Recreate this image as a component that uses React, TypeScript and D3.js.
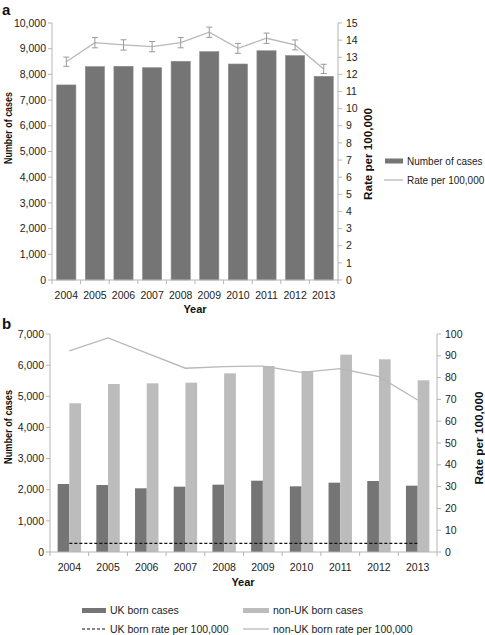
import React from "react";
import * as d3 from "d3";

const years = ["2004", "2005", "2006", "2007", "2008", "2009", "2010", "2011", "2012", "2013"];

// Panel a
const totalCases = [7590, 8300, 8315, 8260, 8510, 8885, 8405, 8920, 8730, 7925];
const totalRate = [12.74, 13.85, 13.72, 13.62, 13.85, 14.46, 13.52, 14.11, 13.72, 12.32];
const totalRateLow = [12.47, 13.55, 13.42, 13.32, 13.55, 14.16, 13.23, 13.81, 13.43, 12.05];
const totalRateHigh = [13.01, 14.15, 14.02, 13.92, 14.15, 14.76, 13.81, 14.41, 14.01, 12.59];
const aLeftTicks = [0, 1000, 2000, 3000, 4000, 5000, 6000, 7000, 8000, 9000, 10000];
const aRightTicks = [0, 1, 2, 3, 4, 5, 6, 7, 8, 9, 10, 11, 12, 13, 14, 15];

// Panel b
const ukCases = [2183, 2151, 2045, 2098, 2162, 2290, 2109, 2226, 2280, 2130];
const nonUkCases = [4774, 5394, 5416, 5437, 5737, 5972, 5812, 6336, 6187, 5513];
const ukRate = [4.0, 4.0, 4.0, 4.0, 4.0, 4.0, 4.0, 4.0, 4.0, 4.0];
const nonUkRate = [92.3, 98.2, 91.2, 84.3, 85.0, 85.3, 82.4, 84.1, 80.4, 69.7];
const bLeftTicks = [0, 1000, 2000, 3000, 4000, 5000, 6000, 7000];
const bRightTicks = [0, 10, 20, 30, 40, 50, 60, 70, 80, 90, 100];

const FONT = "'Liberation Sans', Arial, Helvetica, sans-serif";
const AXIS = "#b5b5b5";
const TXT = "#222";
const DARK = "#757575";
const LIGHT = "#bcbcbc";
const LINE = "#b8b8b8";
const fmt = d3.format(",");

function BandAxisX({ x, y, labelY }: { x: d3.ScaleBand<string>; y: number; labelY: number }) {
  const [r0, r1] = x.range();
  const step = x.step();
  const bounds = d3.range(years.length + 1).map((i) => r0 + i * step);
  return (
    <g>
      <line x1={r0} x2={r1} y1={y} y2={y} stroke={AXIS} />
      {bounds.map((b, i) => (
        <line key={i} x1={b} x2={b} y1={y} y2={y + 4} stroke={AXIS} />
      ))}
      {years.map((yr) => (
        <text key={yr} x={x(yr)! + x.bandwidth() / 2} y={labelY} textAnchor="middle" fontSize={10.5} fill={TXT}>
          {yr}
        </text>
      ))}
    </g>
  );
}

function LeftAxis({ scale, ticks, x, f }: { scale: d3.ScaleLinear<number, number>; ticks: number[]; x: number; f: (v: number) => string }) {
  const [a, b] = scale.range();
  return (
    <g>
      <line x1={x} x2={x} y1={a} y2={b} stroke={AXIS} />
      {ticks.map((t) => (
        <g key={t}>
          <line x1={x - 4} x2={x} y1={scale(t)} y2={scale(t)} stroke={AXIS} />
          <text x={x - 6} y={scale(t)} dy="0.35em" textAnchor="end" fontSize={10.5} fill={TXT}>
            {f(t)}
          </text>
        </g>
      ))}
    </g>
  );
}

function RightAxis({ scale, ticks, x }: { scale: d3.ScaleLinear<number, number>; ticks: number[]; x: number }) {
  const [a, b] = scale.range();
  return (
    <g>
      <line x1={x} x2={x} y1={a} y2={b} stroke={AXIS} />
      {ticks.map((t) => (
        <g key={t}>
          <line x1={x} x2={x + 4} y1={scale(t)} y2={scale(t)} stroke={AXIS} />
          <text x={x + 8} y={scale(t)} dy="0.35em" textAnchor="start" fontSize={10.5} fill={TXT}>
            {String(t)}
          </text>
        </g>
      ))}
    </g>
  );
}

function VTitle({ x, y, text, len }: { x: number; y: number; text: string; len: number }) {
  return (
    <text
      transform={`translate(${x},${y}) rotate(-90)`}
      textAnchor="middle"
      dy="0.35em"
      fontSize={10.5}
      fontWeight="bold"
      fill="#111"
      textLength={len}
      lengthAdjust="spacingAndGlyphs"
    >
      {text}
    </text>
  );
}

export default function App() {
  // Panel a scales
  const xa = d3.scaleBand<string>().domain(years).range([52, 338]).paddingInner(0.33).paddingOuter(0.165);
  const ya = d3.scaleLinear().domain([0, 10000]).range([280, 23]);
  const ra = d3.scaleLinear().domain([0, 15]).range([280, 23]);
  const cxa = (i: number) => xa(years[i])! + xa.bandwidth() / 2;
  const rateLine = d3
    .line<number>()
    .x((_, i) => cxa(i))
    .y((d) => ra(d));

  // Panel b scales
  const xb = d3.scaleBand<string>().domain(years).range([50, 437]).paddingInner(0.395).paddingOuter(0.1975);
  const sub = d3.scaleBand<string>().domain(["uk", "non"]).range([0, xb.bandwidth()]);
  const yb = d3.scaleLinear().domain([0, 7000]).range([552, 334]);
  const rb = d3.scaleLinear().domain([0, 100]).range([552, 334]);
  const cxb = (i: number) => xb(years[i])! + xb.bandwidth() / 2;
  const lineB = d3
    .line<number>()
    .x((_, i) => cxb(i))
    .y((d) => rb(d));

  return (
    <svg
      width={485}
      height={635}
      style={{ position: "absolute", left: 0, top: 0, background: "#fff" }}
      fontFamily={FONT}
    >
      <rect width={485} height={635} fill="#fff" />
      {/* Panel a */}
      <text x={2} y={15} fontSize={15} fontWeight="bold" fill="#111">a</text>
      {totalCases.map((v, i) => (
        <rect
          key={i}
          x={xa(years[i])}
          y={ya(v)}
          width={xa.bandwidth()}
          height={ya(0) - ya(v)}
          fill={DARK}
          stroke="#8a8a8a"
          strokeWidth={0.6}
        />
      ))}
      <path d={rateLine(totalRate)!} fill="none" stroke={LINE} strokeWidth={1.3} />
      {totalRate.map((_, i) => (
        <g key={i} stroke="#9a9a9a" strokeWidth={1}>
          <line x1={cxa(i)} x2={cxa(i)} y1={ra(totalRateLow[i])} y2={ra(totalRateHigh[i])} />
          <line x1={cxa(i) - 3} x2={cxa(i) + 3} y1={ra(totalRateLow[i])} y2={ra(totalRateLow[i])} />
          <line x1={cxa(i) - 3} x2={cxa(i) + 3} y1={ra(totalRateHigh[i])} y2={ra(totalRateHigh[i])} />
        </g>
      ))}
      <LeftAxis scale={ya} ticks={aLeftTicks} x={52} f={(v) => fmt(v)} />
      <RightAxis scale={ra} ticks={aRightTicks} x={338} />
      <BandAxisX x={xa} y={280} labelY={299} />
      <text x={195} y={313} textAnchor="middle" fontSize={11} fontWeight="bold" fill="#111">Year</text>
      <VTitle x={8} y={128} text="Number of cases" len={72} />
      <VTitle x={368} y={154} text="Rate per 100,000" len={92} />
      {/* legend a */}
      <rect x={385} y={158.5} width={18} height={5} fill={DARK} />
      <text x={407} y={161} dy="0.35em" fontSize={10} fill={TXT}>Number of cases</text>
      <line x1={384} x2={403} y1={180} y2={180} stroke={LINE} strokeWidth={1.3} />
      <text x={407} y={180} dy="0.35em" fontSize={10} fill={TXT}>Rate per 100,000</text>

      {/* Panel b */}
      <text x={2} y={329} fontSize={15} fontWeight="bold" fill="#111">b</text>
      {years.map((yr, i) => (
        <g key={yr} transform={`translate(${xb(yr)},0)`}>
          <rect x={sub("uk")} y={yb(ukCases[i])} width={sub.bandwidth()} height={yb(0) - yb(ukCases[i])} fill={DARK} />
          <rect x={sub("non")} y={yb(nonUkCases[i])} width={sub.bandwidth()} height={yb(0) - yb(nonUkCases[i])} fill={LIGHT} />
        </g>
      ))}
      <path d={lineB(nonUkRate)!} fill="none" stroke={LINE} strokeWidth={1.3} />
      <path d={lineB(ukRate)!} fill="none" stroke="#111" strokeWidth={1.2} strokeDasharray="3,2" />
      <LeftAxis scale={yb} ticks={bLeftTicks} x={50} f={(v) => fmt(v)} />
      <RightAxis scale={rb} ticks={bRightTicks} x={437} />
      <BandAxisX x={xb} y={552} labelY={571} />
      <text x={243} y={586} textAnchor="middle" fontSize={11} fontWeight="bold" fill="#111">Year</text>
      <VTitle x={8} y={427} text="Number of cases" len={74} />
      <VTitle x={479} y={438} text="Rate per 100,000" len={93} />
      {/* legend b */}
      <rect x={82} y={608} width={24} height={5} fill={DARK} />
      <text x={110} y={610.5} dy="0.35em" fontSize={10.5} fill={TXT}>UK born cases</text>
      <rect x={243} y={608} width={26} height={5} fill={LIGHT} />
      <text x={273} y={610.5} dy="0.35em" fontSize={10.5} fill={TXT}>non-UK born cases</text>
      <line x1={82} x2={106} y1={629} y2={629} stroke="#111" strokeWidth={1.2} strokeDasharray="3,2" />
      <text x={110} y={629} dy="0.35em" fontSize={10.5} fill={TXT}>UK born rate per 100,000</text>
      <line x1={243} x2={269} y1={629} y2={629} stroke={LINE} strokeWidth={1.3} />
      <text x={273} y={629} dy="0.35em" fontSize={10.5} fill={TXT}>non-UK born rate per 100,000</text>
    </svg>
  );
}
